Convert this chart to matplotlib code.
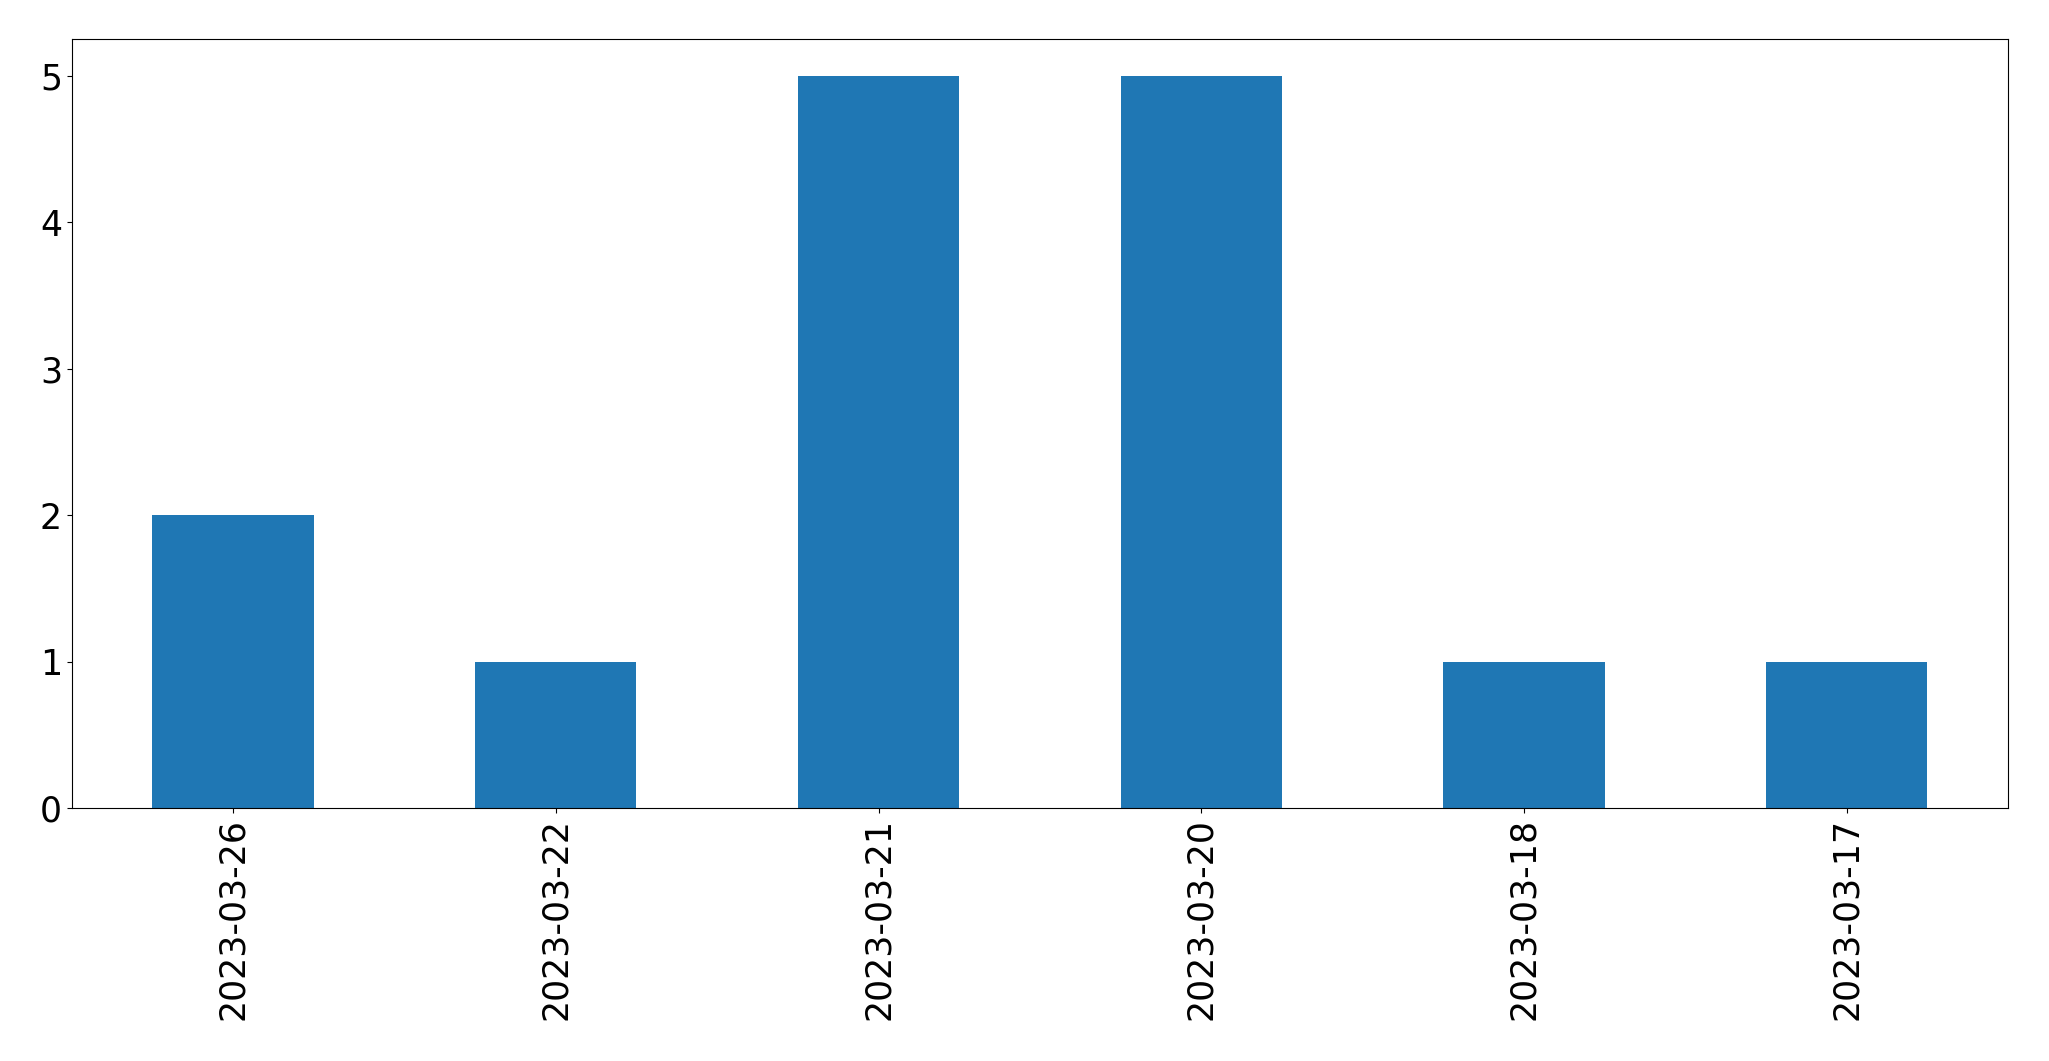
import matplotlib
matplotlib.use("Agg")
import matplotlib.pyplot as plt
import pandas as pd

# counts per date, in the order shown
dates = ["2023-03-26", "2023-03-22", "2023-03-21", "2023-03-20", "2023-03-18", "2023-03-17"]
counts = [2, 1, 5, 5, 1, 1]

s = pd.Series(counts, index=dates)

fig = plt.figure(figsize=(20.49, 10.61), dpi=100)
ax = fig.add_axes([0.035, 0.238, 0.945, 0.725])
s.plot(kind="bar", ax=ax, color="#1f77b4", fontsize=25)
ax.tick_params(axis="both", labelsize=25)

fig.savefig("out.png", dpi=100)
